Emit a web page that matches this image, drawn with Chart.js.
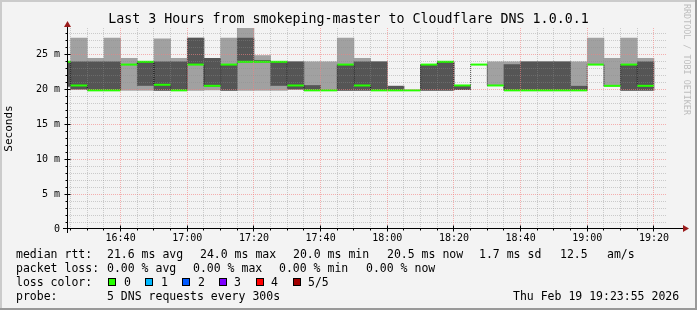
<!DOCTYPE html>
<html>
<head>
<meta charset="utf-8">
<script src="https://cdn.jsdelivr.net/npm/chart.js@4.4.1/dist/chart.umd.min.js"></script>
<style>
  html, body { margin: 0; padding: 0; background: #f3f3f3; }
  #wrap { position: relative; width: 697px; height: 310px; overflow: hidden; background: #f3f3f3;
          font-family: "DejaVu Sans Mono", monospace; color: #000; }
  #wrap canvas { position: absolute; left: 0; top: 0; }
  .shade { position: absolute; }
  .t { position: absolute; white-space: pre; font-size: 11.5px; line-height: 14px; }
  .title { position: absolute; left: 0; width: 697px; top: 11px; text-align: center; font-size: 13.3px; line-height: 16px; white-space: pre; }
  .credit { position: absolute; left: 682px; top: 4px; writing-mode: vertical-rl; font-size: 8.4px; color: #bdbdbd; white-space: pre; }
  .box { position: absolute; top: 278px; width: 8px; height: 8px; box-sizing: border-box; border: 1px solid #000; }
</style>
</head>
<body>
<div id="wrap">
  <canvas id="smoke" width="697" height="310"></canvas>
  <div class="shade" style="left:0;top:0;width:697px;height:2px;background:#cbcbcb"></div>
  <div class="shade" style="left:0;top:0;width:2px;height:310px;background:#cbcbcb"></div>
  <div class="shade" style="left:0;top:308px;width:697px;height:2px;background:#999"></div>
  <div class="shade" style="left:695px;top:0;width:2px;height:310px;background:#999"></div>

  <div class="title">Last 3 Hours from smokeping-master to Cloudflare DNS 1.0.0.1</div>
  <div class="credit">RRDTOOL / TOBI OETIKER</div>

  <div class="t" style="left:16px;top:247px">median rtt:</div>
  <div class="t" style="left:107px;top:247px">21.6 ms avg</div>
  <div class="t" style="left:200px;top:247px">24.0 ms max</div>
  <div class="t" style="left:293px;top:247px">20.0 ms min</div>
  <div class="t" style="left:387px;top:247px">20.5 ms now</div>
  <div class="t" style="left:479px;top:247px">1.7 ms sd</div>
  <div class="t" style="left:560px;top:247px">12.5</div>
  <div class="t" style="left:607px;top:247px">am/s</div>

  <div class="t" style="left:16px;top:261px">packet loss:</div>
  <div class="t" style="left:107px;top:261px">0.00 % avg</div>
  <div class="t" style="left:193px;top:261px">0.00 % max</div>
  <div class="t" style="left:279px;top:261px">0.00 % min</div>
  <div class="t" style="left:366px;top:261px">0.00 % now</div>

  <div class="t" style="left:16px;top:275px">loss color:</div>
  <div class="box" style="left:108px;background:#26ff00"></div><div class="t" style="left:124px;top:275px">0</div>
  <div class="box" style="left:145px;background:#00b8ff"></div><div class="t" style="left:161px;top:275px">1</div>
  <div class="box" style="left:182px;background:#0059ff"></div><div class="t" style="left:198px;top:275px">2</div>
  <div class="box" style="left:219px;background:#7e00ff"></div><div class="t" style="left:234px;top:275px">3</div>
  <div class="box" style="left:256px;background:#ff0000"></div><div class="t" style="left:271px;top:275px">4</div>
  <div class="box" style="left:293px;background:#a10000"></div><div class="t" style="left:308px;top:275px">5/5</div>

  <div class="t" style="left:16px;top:289px">probe:</div>
  <div class="t" style="left:107px;top:289px">5 DNS requests every 300s</div>
  <div class="t" style="left:513px;top:289px">Thu Feb 19 19:23:55 2026</div>
</div>

<script>
// 5 minute steps, each labelled by the time the step ends
const slotEnds = ['16:25', '16:30', '16:35', '16:40', '16:45', '16:50', '16:55', '17:00', '17:05',
                  '17:10', '17:15', '17:20', '17:25', '17:30', '17:35', '17:40', '17:45', '17:50',
                  '17:55', '18:00', '18:05', '18:10', '18:15', '18:20', '18:25', '18:30', '18:35',
                  '18:40', '18:45', '18:50', '18:55', '19:00', '19:05', '19:10', '19:15', '19:20'];
// sorted pings per step, in ms
const pingMin    = [20.4, 20.0, 19.9, 19.9, 19.9, 19.9, 19.9, 19.9, 19.9, 19.95, 19.9, 19.9, 19.9, 19.9, 20.0, 19.9, 19.9, 19.9,
                    19.9, 19.9, 19.9, 19.9, 19.9, 19.9, 20.0, 23.6, 20.6, 19.9, 19.9, 19.9, 19.9, 19.9, 23.6, 20.55, 19.9, 19.9];
const pingLow    = [20.5, 20.1, 19.9, 19.9, 23.6, 20.6, 19.9, 19.9, 23.6, 20.5, 19.9, 24.0, 24.0, 20.6, 20.1, 19.9, 19.9, 19.9,
                    19.9, 19.9, 19.9, 19.9, 19.9, 19.9, 20.0, 23.6, 20.6, 19.9, 19.9, 19.9, 19.9, 19.9, 23.6, 20.55, 19.9, 19.9];
const pingMedian = [24.0, 20.6, 19.9, 19.9, 23.6, 24.0, 20.7, 19.9, 23.6, 20.55, 23.6, 24.0, 24.0, 24.0, 20.6, 19.9, 19.9, 23.6,
                    20.6, 19.9, 19.9, 19.9, 23.6, 24.0, 20.6, 23.6, 20.6, 19.9, 19.9, 19.9, 19.9, 19.9, 23.6, 20.55, 23.6, 20.55];
const pingHigh   = [24.0, 24.0, 24.0, 24.0, 23.6, 24.0, 24.0, 24.0, 27.4, 24.5, 23.6, 27.4, 24.2, 24.0, 24.0, 20.6, 19.9, 23.6,
                    24.0, 24.0, 20.5, 19.9, 23.6, 24.0, 20.6, 23.6, 20.6, 23.6, 24.0, 24.0, 24.0, 20.5, 23.6, 20.55, 23.6, 24.0];
const pingMax    = [24.0, 27.4, 24.5, 27.4, 24.5, 24.0, 27.3, 24.5, 27.4, 24.5, 27.4, 28.8, 24.9, 24.0, 24.0, 24.0, 24.0, 27.4,
                    24.5, 24.0, 20.5, 19.9, 23.6, 24.0, 20.6, 23.6, 24.0, 24.0, 24.0, 24.0, 24.0, 24.0, 27.4, 24.5, 27.4, 24.5];

const viewStart = '16:23:55';
const viewEnd = '19:23:55';
const xTickLabels = ['16:40', '17:00', '17:20', '17:40', '18:00', '18:20', '18:40', '19:00', '19:20'];
const yTickValues = [0, 5, 10, 15, 20, 25];
const yTickLabels = ['0', '5 m', '10 m', '15 m', '20 m', '25 m'];
const yTop = 28.85;

function toMin(s) {
  const [h, m, sec = 0] = s.split(':').map(Number);
  return h * 60 + m + sec / 60;
}

const slotCenters = slotEnds.map(s => toMin(s) - 2.5);
const mono = 'DejaVu Sans Mono';

// rrdtool style grid (on top of the smoke), axes and arrows
const rrdFrame = {
  id: 'rrdFrame',
  afterDatasetsDraw(chart) {
    const { ctx, chartArea: a, scales: { x, y } } = chart;
    ctx.save();
    ctx.lineWidth = 1;
    ctx.setLineDash([1, 1]);
    for (let v = 1; v <= y.max; v++) {
      const py = Math.floor(y.getPixelForValue(v)) + 0.5;
      ctx.strokeStyle = v % 5 === 0 ? 'rgba(245,128,128,0.6)' : 'rgba(139,139,139,0.4)';
      ctx.beginPath(); ctx.moveTo(a.left, py); ctx.lineTo(a.right, py); ctx.stroke();
    }
    for (let m = Math.ceil(x.min / 5) * 5; m <= x.max; m += 5) {
      const px = Math.floor(x.getPixelForValue(m)) + 0.5;
      ctx.strokeStyle = m % 20 === 0 ? 'rgba(245,128,128,0.6)' : 'rgba(139,139,139,0.4)';
      ctx.beginPath(); ctx.moveTo(px, a.top); ctx.lineTo(px, a.bottom); ctx.stroke();
    }
    ctx.setLineDash([]);

    // axes
    const ax = a.left + 0.5;
    const ay = Math.floor(a.bottom) - 0.5;
    ctx.strokeStyle = '#000';
    ctx.beginPath();
    ctx.moveTo(a.left - 4, ay); ctx.lineTo(a.right + 16, ay);
    ctx.moveTo(ax, a.bottom + 4); ctx.lineTo(ax, a.top - 2);
    ctx.stroke();
    // tick marks
    ctx.beginPath();
    for (let v = 1; v <= y.max; v++) {
      const py = Math.floor(y.getPixelForValue(v)) + 0.5;
      if (v % 5 === 0) { ctx.moveTo(ax - 3, py); ctx.lineTo(ax + 3, py); }
      else { ctx.moveTo(ax - 2, py); ctx.lineTo(ax, py); }
    }
    for (let m = Math.ceil(x.min / 5) * 5; m <= x.max; m += 5) {
      const px = Math.floor(x.getPixelForValue(m)) + 0.5;
      if (m % 20 === 0) { ctx.moveTo(px, ay - 3); ctx.lineTo(px, ay + 3); }
      else { ctx.moveTo(px, ay); ctx.lineTo(px, ay + 2); }
    }
    ctx.stroke();
    // arrows
    ctx.fillStyle = '#9b1c1c';
    ctx.beginPath();
    ctx.moveTo(a.right + 22, ay); ctx.lineTo(a.right + 16, ay - 3.5); ctx.lineTo(a.right + 16, ay + 3.5);
    ctx.closePath(); ctx.fill();
    ctx.beginPath();
    ctx.moveTo(ax, a.top - 7); ctx.lineTo(ax - 3.5, a.top - 1); ctx.lineTo(ax + 3.5, a.top - 1);
    ctx.closePath(); ctx.fill();
    ctx.restore();
  }
};

Chart.defaults.color = '#000';
Chart.defaults.font.family = mono;

const ctx = document.getElementById('smoke').getContext('2d');
const smokeChart = new Chart(ctx, {
  type: 'bar',
  data: {
    datasets: [
      {
        // outer pings: min .. max
        data: slotCenters.map((c, i) => ({ x: c, y: [pingMin[i], pingMax[i]] })),
        backgroundColor: '#a1a1a1',
        order: 3
      },
      {
        // inner pings: 2nd .. 4th
        data: slotCenters.map((c, i) => ({ x: c, y: [pingLow[i], pingHigh[i]] })),
        backgroundColor: '#555555',
        order: 2
      },
      {
        type: 'line',
        data: slotCenters.map((c, i) => ({ x: c, y: pingMedian[i] })),
        stepped: 'middle',
        borderColor: 'rgba(0,0,0,0.85)',
        borderWidth: 1,
        borderDash: [1, 1],
        pointRadius: 0,
        clip: 0,
        order: 1
      },
      {
        // median, coloured by loss (0 lost = green)
        type: 'line',
        data: slotCenters.map((c, i) => ({ x: c, y: pingMedian[i] })),
        showLine: false,
        pointStyle: 'line',
        pointRadius: c => (c.chart.scales.x.getPixelForValue(5) - c.chart.scales.x.getPixelForValue(0)) / 2,
        pointBorderWidth: 2,
        pointBorderColor: '#26ff00',
        clip: 0,
        order: 0
      }
    ]
  },
  options: {
    responsive: false,
    animation: false,
    datasets: {
      bar: { grouped: false, barPercentage: 1, categoryPercentage: 1, borderWidth: 0, clip: 0 }
    },
    layout: { padding: { left: 0, top: 28, right: 30, bottom: 0 } },
    plugins: { legend: { display: false }, tooltip: { enabled: false } },
    scales: {
      x: {
        type: 'linear',
        offset: false,
        min: toMin(viewStart),
        max: toMin(viewEnd),
        grid: { display: false, drawTicks: false },
        border: { display: false },
        afterBuildTicks: s => { s.ticks = xTickLabels.map(l => ({ value: toMin(l) })); },
        afterFit: s => { s.height = 81; },
        ticks: {
          autoSkip: false,
          maxRotation: 0,
          padding: 3,
          font: { family: mono, size: 10 },
          callback: (v, i) => xTickLabels[i]
        }
      },
      y: {
        min: 0,
        max: yTop,
        grid: { display: false, drawTicks: false },
        border: { display: false },
        afterBuildTicks: s => { s.ticks = yTickValues.map(v => ({ value: v })); },
        afterFit: s => { s.width = 67; },
        ticks: {
          padding: 7,
          font: { family: mono, size: 10 },
          callback: (v, i) => yTickLabels[i]
        },
        title: {
          display: true,
          text: 'Seconds',
          font: { family: mono, size: 11 },
          padding: { top: 3, bottom: 0 }
        }
      }
    }
  },
  plugins: [rrdFrame]
});
</script>
</body>
</html>
